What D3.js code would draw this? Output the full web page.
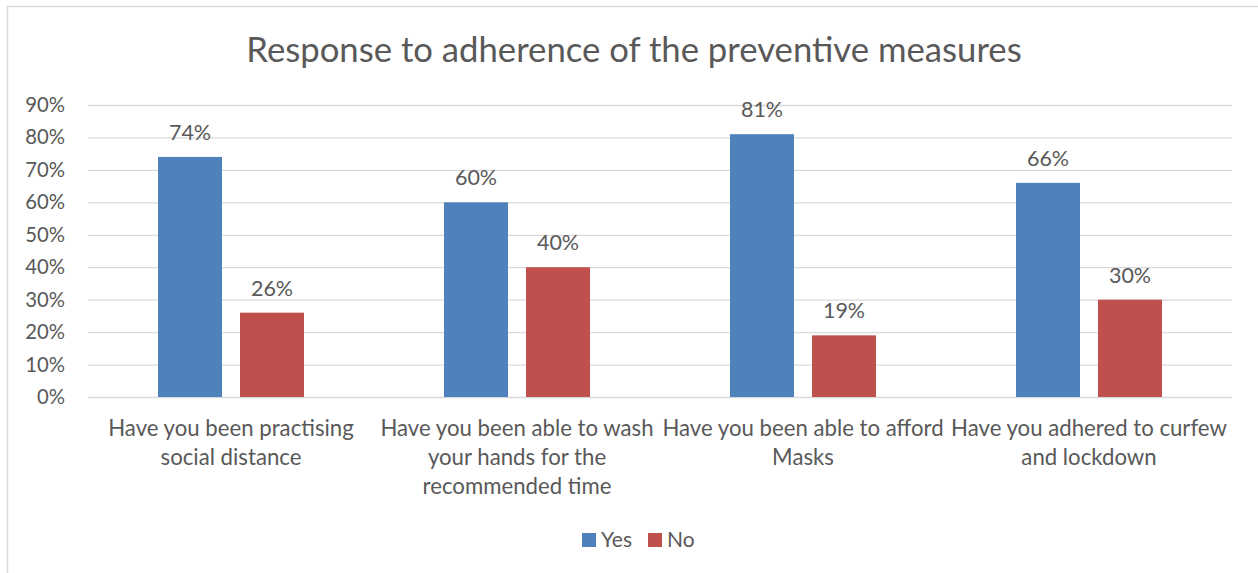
<!DOCTYPE html>
<html>
<head>
<meta charset="utf-8">
<script src="https://cdn.jsdelivr.net/npm/d3@7"></script>
<style>
  html, body { margin: 0; padding: 0; background: #fff; }
  svg { display: block; font-family: Lato, "Open Sans", sans-serif; }
</style>
</head>
<body>
<svg id="chart" width="1258" height="573"></svg>
<script>
// Survey responses on adherence to preventive measures
const title = "Response to adherence of the preventive measures";
const categories = [
  "Have you been practising\nsocial distance",
  "Have you been able to wash\nyour hands for the\nrecommended time",
  "Have you been able to afford\nMasks",
  "Have you adhered to curfew\nand lockdown"
];
const seriesNames = ["Yes", "No"];
const yesValues = [74, 60, 81, 66];
const noValues = [26, 40, 19, 30];
const yTicks = [0, 10, 20, 30, 40, 50, 60, 70, 80, 90];
const colors = ["#4F81BD", "#C0504D"];

const svg = d3.select("#chart");
const W = 1258, H = 573;
const margin = { left: 88, right: 26, top: 105, bottom: 176 };
const plotW = W - margin.left - margin.right;
const plotH = H - margin.top - margin.bottom;
const textColor = "#595959";
const fontFamily = "Lato, 'Open Sans', sans-serif";

// chart frame
svg.append("rect")
  .attr("x", 7.5).attr("y", 6.5)
  .attr("width", 1300).attr("height", 700)
  .attr("fill", "none").attr("stroke", "#D9D9D9").attr("stroke-width", 1.5);

svg.append("text")
  .attr("x", 634).attr("y", 62)
  .attr("text-anchor", "middle")
  .attr("font-size", 34.7)
  .attr("fill", textColor)
  .text(title);

const g = svg.append("g").attr("transform", `translate(${margin.left},${margin.top})`);

const y = d3.scaleLinear().domain([0, 90]).range([plotH, 0]);
const x0 = d3.scaleBand().domain(d3.range(categories.length)).range([0, plotW]);
const groupW = 146;
const x1 = d3.scaleBand().domain(seriesNames).range([0, groupW]).paddingInner(18 / 82);

// gridlines and value axis
const yAxis = d3.axisLeft(y).tickValues(yTicks).tickSize(-plotW).tickFormat(d => d + "%").tickPadding(23);
const ya = g.append("g").call(yAxis);
ya.select(".domain").remove();
ya.selectAll(".tick line").attr("stroke", "#D9D9D9").attr("stroke-width", 1.3);
ya.selectAll(".tick text").attr("fill", textColor).attr("font-size", 20.3).attr("font-family", fontFamily);

const rows = categories.map((c, i) => ({ i, vals: [yesValues[i], noValues[i]] }));

const groups = g.selectAll(".grp").data(rows).join("g")
  .attr("transform", d => `translate(${x0(d.i) + (x0.bandwidth() - groupW) / 2},0)`);

groups.selectAll("rect").data(d => d.vals.map((v, k) => ({ v, k }))).join("rect")
  .attr("x", d => x1(seriesNames[d.k]))
  .attr("width", x1.bandwidth())
  .attr("y", d => y(d.v))
  .attr("height", d => plotH - y(d.v))
  .attr("fill", d => colors[d.k]);

groups.selectAll(".lbl").data(d => d.vals.map((v, k) => ({ v, k }))).join("text")
  .attr("class", "lbl")
  .attr("x", d => x1(seriesNames[d.k]) + x1.bandwidth() / 2)
  .attr("y", d => y(d.v) - 17)
  .attr("text-anchor", "middle")
  .attr("font-size", 21.5)
  .attr("fill", textColor)
  .text(d => d.v + "%");

// category labels
const cat = g.selectAll(".cat").data(categories).join("text")
  .attr("class", "cat")
  .attr("text-anchor", "middle")
  .attr("font-size", 22.2)
  .attr("fill", textColor)
  .attr("transform", (d, i) => `translate(${x0(i) + x0.bandwidth() / 2},${plotH + 39})`);
cat.selectAll("tspan").data(d => d.split("\n")).join("tspan")
  .attr("x", 0)
  .attr("dy", (d, j) => j === 0 ? 0 : 29)
  .text(d => d);

// legend
const legend = svg.append("g").attr("transform", "translate(582,533)");
const items = legend.selectAll("g").data(seriesNames).join("g")
  .attr("transform", (d, i) => `translate(${i * 66},0)`);
items.append("rect").attr("width", 14).attr("height", 14).attr("fill", (d, i) => colors[i]);
items.append("text").attr("x", 19).attr("y", 14).attr("font-size", 21).attr("fill", textColor).text(d => d);
</script>
</body>
</html>
